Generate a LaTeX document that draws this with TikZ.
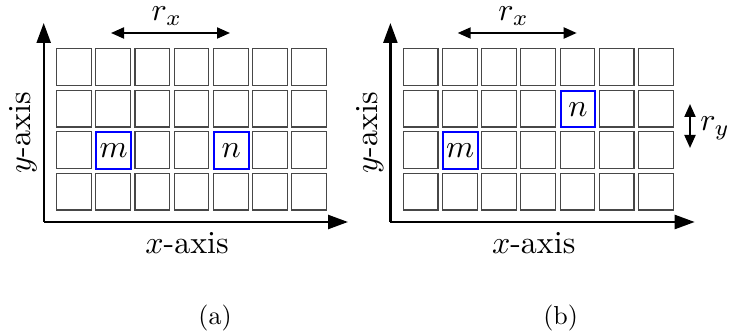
\documentclass[tikz,border=0pt]{standalone}
\usetikzlibrary{arrows.meta}
\begin{document}
\begin{tikzpicture}[x=1pt,y=-1pt,
  cell/.style={draw=black!72,line width=1.15pt,minimum width=34.7pt,minimum height=36.7pt,inner sep=0pt,anchor=north west},
  hot/.style={cell,draw=blue,line width=2pt},
  axisline/.style={line width=2.4pt,-{Triangle[length=20pt,width=14pt]}},
  dimline/.style={line width=2pt,{Triangle[length=13pt,width=11pt]}-{Triangle[length=13pt,width=11pt]}},
  lab/.style={inner sep=0pt,scale=3.2},
  subcap/.style={inner sep=0pt,scale=2.6}]
\useasboundingbox (0,0) rectangle (729,331);
% panel (a)
\foreach \i in {0,...,6}{\foreach \j in {0,...,3}{
  \node[cell] (a-\i-\j) at ({56+39.2*\i},{48.3+41.5*\j}) {};}}
\node[hot] (am) at ({56+39.2*1},{48.3+41.5*2}) {};
\node[hot] (an) at ({56+39.2*4},{48.3+41.5*2}) {};
\node[lab] (amt) at (am.center) {$m$};
\node[lab] (ant) at (an.center) {$n$};
\coordinate (ao) at (43.7,222);
\coordinate (ay) at (43.7,23);
\coordinate (ax) at (348,222);
\draw[axisline] (ao) -- (ay);
\draw[axisline] (ao) -- (ax);
\coordinate (arl) at (111,33);
\coordinate (arr) at (230,33);
\draw[dimline] (arl) -- (arr);
\node[lab] (arx) at (167,16.5) {$r_x$};
\node[lab] (axl) at (187,243) {$x$-axis};
\node[lab,rotate=90] (ayl) at (23,133) {$y$-axis};
\node[subcap] (capa) at (215,318) {(a)};
% panel (b)
\begin{scope}[xshift=346.7pt]
\foreach \i in {0,...,6}{\foreach \j in {0,...,3}{
  \node[cell] (b-\i-\j) at ({56+39.2*\i},{48.3+41.5*\j}) {};}}
\node[hot] (bm) at ({56+39.2*1},{48.3+41.5*2}) {};
\node[hot] (bn) at ({56+39.2*4},{48.3+41.5*1}) {};
\node[lab] (bmt) at (bm.center) {$m$};
\node[lab] (bnt) at (bn.center) {$n$};
\coordinate (bo) at (43.7,222);
\coordinate (by) at (43.7,23);
\coordinate (bx) at (348,222);
\draw[axisline] (bo) -- (by);
\draw[axisline] (bo) -- (bx);
\coordinate (brl) at (111,33);
\coordinate (brr) at (230,33);
\draw[dimline] (brl) -- (brr);
\node[lab] (brx) at (167,16.5) {$r_x$};
\node[lab] (bxl) at (187,243) {$x$-axis};
\node[lab,rotate=90] (byl) at (23,133) {$y$-axis};
\coordinate (bryt) at (343.3,104);
\coordinate (bryb) at (343.3,148);
\draw[dimline] (bryt) -- (bryb);
\node[lab] (bry) at (368.5,128) {$r_y$};
\node[subcap] (capb) at (214,318) {(b)};
\end{scope}
\end{tikzpicture}
\end{document}
